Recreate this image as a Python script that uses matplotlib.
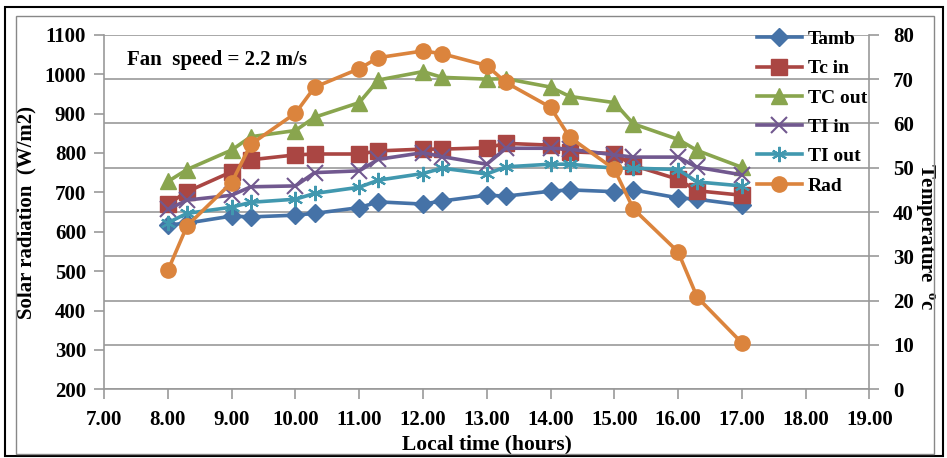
import numpy as np
import matplotlib.pyplot as plt
from matplotlib.patches import Rectangle

# data
hours = [8.0, 8.3, 9.0, 9.3, 10.0, 10.3, 11.0, 11.3, 12.0, 12.3,
         13.0, 13.3, 14.0, 14.3, 15.0, 15.3, 16.0, 16.3, 17.0]
tamb = [37.1, 37.5, 39.1, 38.9, 39.3, 39.7, 41.0, 42.3, 41.8, 42.5,
        43.8, 43.6, 44.7, 45.0, 44.6, 45.0, 43.2, 42.9, 41.6]
tc_in = [41.8, 44.6, 49.1, 51.8, 52.9, 53.1, 53.1, 53.8, 54.2, 54.2,
         54.5, 55.5, 55.1, 53.6, 53.2, 50.5, 47.4, 44.8, 43.8]
tc_out = [46.9, 49.6, 54.0, 57.0, 58.4, 61.4, 64.7, 69.8, 71.7, 70.4,
          70.0, 70.1, 68.2, 66.1, 64.7, 59.9, 56.4, 53.9, 50.1]
ti_in = [40.6, 42.7, 43.8, 45.7, 45.9, 48.9, 49.3, 51.9, 53.4, 52.5,
         50.8, 54.4, 54.4, 54.2, 52.9, 52.4, 52.4, 50.1, 48.4]
ti_out = [37.6, 39.7, 41.1, 42.2, 42.9, 44.2, 45.6, 47.2, 48.7, 49.9,
          48.6, 50.2, 50.8, 50.8, 49.9, 49.9, 49.6, 46.8, 45.9]
rad = [502, 615, 725, 822, 901, 967, 1014, 1042, 1059, 1052,
       1022, 979, 916, 840, 759, 658, 549, 434, 318]

plt.rcParams['font.family'] = ['Liberation Serif', 'DejaVu Serif']
plt.rcParams['font.weight'] = 'bold'

fig = plt.figure(figsize=(9.47, 4.58), dpi=100)
ax = fig.add_axes([0.110, 0.150, 0.808, 0.774])
ax2 = ax.twinx()

# chart border (outer dark, inner gray)
fig.patches.append(Rectangle((5 / 947, 2 / 458), 938 / 947, 449 / 458, transform=fig.transFigure,
                             fill=False, edgecolor='black', linewidth=1.5))
fig.patches.append(Rectangle((16 / 947, 4 / 458), 918 / 947, 438 / 458, transform=fig.transFigure,
                             fill=False, edgecolor='#888888', linewidth=1.0))

ax.set_xlim(7, 19)
ax.set_ylim(200, 1100)
ax2.set_ylim(0, 80)
ax.set_xticks(np.arange(7, 20, 1))
ax.set_xticklabels([f'{v:.2f}' for v in np.arange(7, 20, 1)])
ax.set_yticks(np.arange(200, 1101, 100))
ax2.set_yticks(np.arange(0, 81, 10))

grey = '#999999'
for a in (ax, ax2):
    for s in a.spines.values():
        s.set_visible(False)
    a.tick_params(length=7, width=1.2, color=grey, labelsize=15)
    for lab in a.get_xticklabels() + a.get_yticklabels():
        lab.set_fontweight('bold')
ax.spines['left'].set_visible(True)
ax.spines['left'].set_color(grey)
ax.spines['left'].set_linewidth(1.2)
ax.spines['bottom'].set_visible(True)
ax.spines['bottom'].set_color(grey)
ax.spines['bottom'].set_linewidth(1.2)
ax2.spines['right'].set_visible(True)
ax2.spines['right'].set_color(grey)
ax2.spines['right'].set_linewidth(1.2)
ax.tick_params(axis='y', pad=6)
ax.tick_params(axis='x', pad=8)
ax2.tick_params(axis='y', pad=10)

lw = 2.6
ax2.plot(hours, tamb, color='#4572A7', marker='D', markersize=9, lw=lw, label='Tamb', zorder=3)
ax2.plot(hours, tc_in, color='#AA4643', marker='s', markersize=11, lw=lw, label='Tc in', zorder=3)
ax2.plot(hours, tc_out, color='#89A54E', marker='^', markersize=11, lw=lw, label='TC out', zorder=3)
ax2.plot(hours, ti_in, color='#71588F', marker='x', markersize=11, mew=1.5, lw=lw, label='TI in', zorder=3)
ax2.plot(hours, ti_out, color='#4198AF', marker=(6, 2, 0), markersize=11, mew=1.5, lw=lw, label='TI out', zorder=3)
rad_line, = ax.plot(hours, rad, color='#DB843D', marker='o', markersize=11, lw=lw, label='Rad', zorder=4)

# Rad is on the left axis but must sit above the temperature lines
ax.set_zorder(ax2.get_zorder() + 1)
ax.patch.set_visible(False)
# gridlines follow the temperature axis
ax2.grid(True, axis='y', color=grey, linewidth=1.2)
ax2.set_axisbelow(True)

handles, labels = ax2.get_legend_handles_labels()
handles.append(rad_line)
labels.append('Rad')
ax.legend(handles, labels, loc='upper right', bbox_to_anchor=(1.012, 1.045), frameon=False,
          fontsize=14, handlelength=2.3, labelspacing=0.6, borderaxespad=0.2, handletextpad=0.3)

ax.text(0.030, 0.93, 'Fan  speed = 2.2 m/s', transform=ax.transAxes, fontsize=15,
        fontweight='bold', va='center')

ax.set_xlabel('Local time (hours)', fontsize=15.5, fontweight='bold', labelpad=3)
ax.set_ylabel('Solar radiation  (W/m2)', fontsize=15, fontweight='bold', labelpad=6)
ax2.set_ylabel('Temperature  $\\mathregular{^o}$c', fontsize=15, fontweight='bold',
               rotation=-90, va='center', ha='center')
ax2.yaxis.set_label_coords(1.074, 0.43)

fig.savefig('out.png', dpi=100)
